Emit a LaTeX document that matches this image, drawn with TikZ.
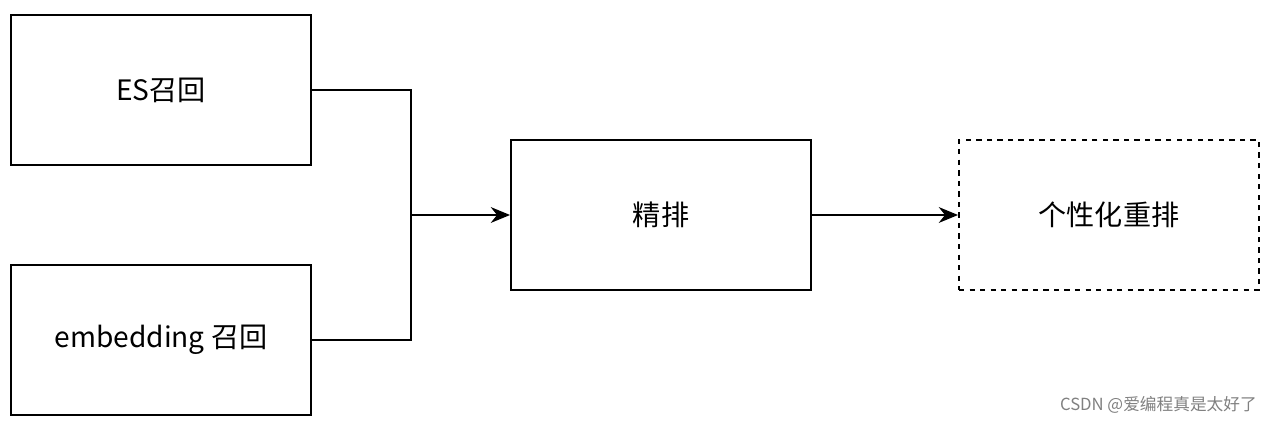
\documentclass[tikz,border=0pt]{standalone}
\usepackage{fontspec}
\setmainfont{Noto Sans CJK SC}
\usetikzlibrary{arrows.meta}
\begin{document}
\begin{tikzpicture}[x=0.02cm,y=-0.02cm,
  box/.style={draw,line width=1.1pt,minimum width=6cm,minimum height=3cm,font=\fontsize{16}{18}\selectfont},
  conn/.style={line width=1.1pt},
  arr/.style={conn,-{Stealth[length=11pt,width=9pt]}}]
\useasboundingbox (0,0) rectangle (1275,425);
\node[box] (es) at (161,90) {ES召回};
\node[box] (emb) at (161,340) {embedding 召回};
\node[box] (jp) at (661,215) {精排};
\node[box,dashed] (gx) at (1109,215) {个性化重排};
\coordinate (j) at (411,215);
\draw[conn] (es.east) -| (j);
\draw[conn] (emb.east) -| (j);
\draw[arr] (j) -- (jp.west);
\draw[arr] (jp.east) -- (gx.west);
\node[text=gray,font=\fontsize{9.5}{11}\selectfont,anchor=east] (wm) at (1263,405) {CSDN @爱编程真是太好了};
\end{tikzpicture}
\end{document}
